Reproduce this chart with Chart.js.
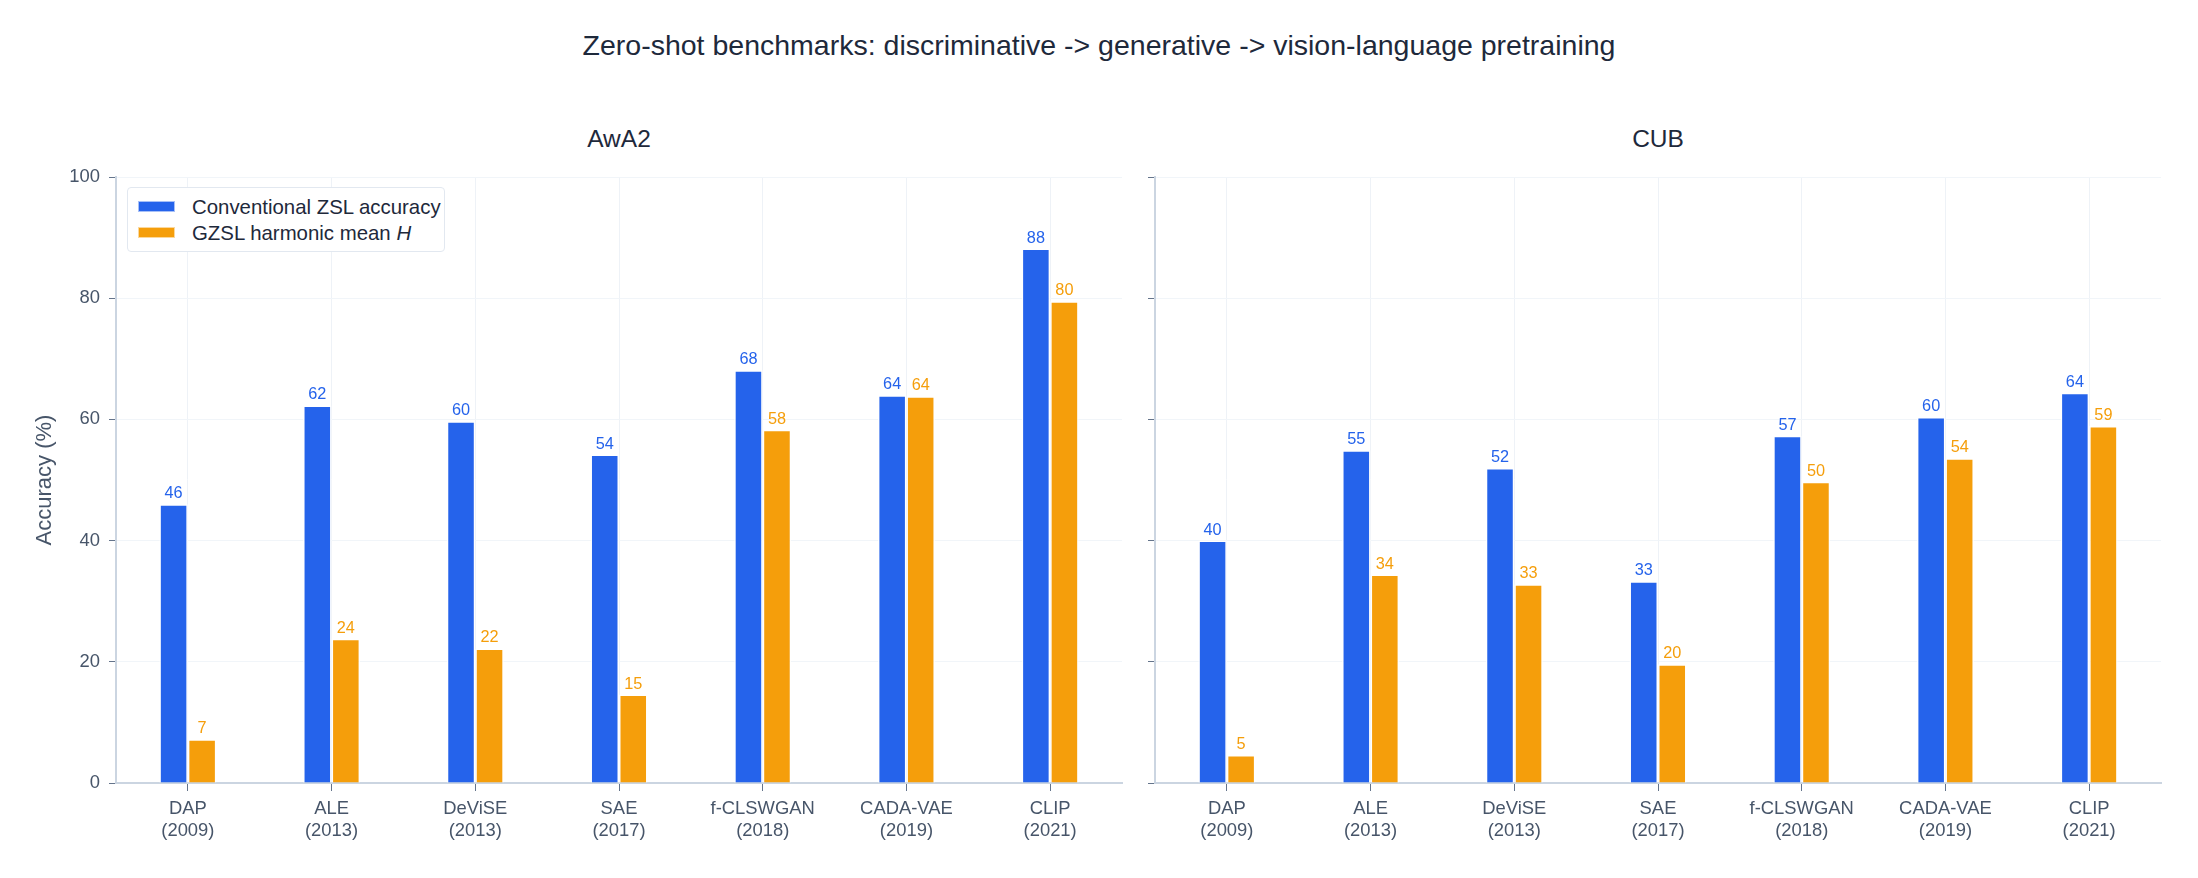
<!DOCTYPE html>
<html>
<head>
<meta charset="utf-8">
<script src="https://cdn.jsdelivr.net/npm/chart.js@4.4.1/dist/chart.umd.min.js"></script>
<style>
  html, body { margin:0; padding:0; background:#ffffff; }
  body { width:2198px; height:878px; position:relative; overflow:hidden;
         font-family:"Liberation Sans", Arial, Helvetica, sans-serif; }
  .txt { position:absolute; white-space:nowrap; color:#1e293b; }
  canvas { position:absolute; top:0; }
  #legend { position:absolute; left:127px; top:187px; width:318px; height:65px; box-sizing:border-box;
            border:1px solid #e2e8f0; border-radius:4px; background:#ffffff; }
  .sw { position:absolute; left:10px; width:37px; height:11px; box-sizing:border-box; }
  .lt { position:absolute; left:64px; font-size:20.4px; line-height:26px; color:#1e293b; white-space:nowrap; }
</style>
</head>
<body>
<div class="txt" id="title" style="left:0; width:2198px; text-align:center; top:28px; font-size:28.5px; line-height:34px;">Zero-shot benchmarks: discriminative -&gt; generative -&gt; vision-language pretraining</div>
<div class="txt" style="left:319px; width:600px; text-align:center; top:124px; font-size:24.5px; line-height:30px;">AwA2</div>
<div class="txt" style="left:1358px; width:600px; text-align:center; top:124px; font-size:24.5px; line-height:30px;">CUB</div>
<canvas id="c1" width="1140" height="878" style="left:0;"></canvas>
<canvas id="c2" width="1058" height="878" style="left:1140px;"></canvas>
<div id="legend">
  <div class="sw" style="top:13px; background:#2563eb; border:1px solid rgba(255,255,255,0.6);"></div>
  <div class="lt" style="top:6px;">Conventional ZSL accuracy</div>
  <div class="sw" style="top:39px; background:#f59e0b; border:1px solid rgba(255,255,255,0.6);"></div>
  <div class="lt" style="top:32px;">GZSL harmonic mean <i>H</i></div>
</div>
<script>
// ---- data ----
const methods = ['DAP', 'ALE', 'DeViSE', 'SAE', 'f-CLSWGAN', 'CADA-VAE', 'CLIP'];
const years = ['2009', '2013', '2013', '2017', '2018', '2019', '2021'];
const awa2ZSL = [46.0, 62.3, 59.7, 54.2, 68.1, 64.0, 88.2];
const awa2H   = [7.2, 23.8, 22.2, 14.6, 58.3, 63.8, 79.5];
const cubZSL  = [40.0, 54.9, 52.0, 33.3, 57.3, 60.4, 64.4];
const cubH    = [4.6, 34.4, 32.8, 19.6, 49.7, 53.6, 58.9];
const yTicks  = [0, 20, 40, 60, 80, 100];
const seriesNames = ['Conventional ZSL accuracy', 'GZSL harmonic mean H'];

const BLUE = '#2563eb', ORANGE = '#f59e0b';
const FONT = '"Liberation Sans", Arial, Helvetica, sans-serif';
Chart.defaults.font.family = FONT;

const labels = methods.map((m, i) => [m, '(' + years[i] + ')']);

const valueLabels = {
  id: 'valueLabels',
  afterDatasetsDraw(chart) {
    const ctx = chart.ctx;
    ctx.save();
    ctx.font = '16.3px ' + FONT;
    ctx.textAlign = 'center';
    ctx.textBaseline = 'alphabetic';
    chart.data.datasets.forEach((ds, di) => {
      const meta = chart.getDatasetMeta(di);
      ctx.fillStyle = ds.labelColor;
      meta.data.forEach((el, i) => {
        ctx.fillText(String(Math.round(ds.data[i])), el.x, el.y - 6);
      });
    });
    ctx.restore();
  }
};

function makeChart(id, zsl, h, isLeft) {
  const yWidth = isLeft ? 116 : 15;
  return new Chart(document.getElementById(id), {
    type: 'bar',
    data: {
      labels: labels,
      datasets: [
        { label: seriesNames[0], data: zsl, backgroundColor: BLUE, labelColor: BLUE,
          borderColor: 'rgba(255,255,255,0.85)', borderWidth: 1.5, borderSkipped: 'start',
          categoryPercentage: 0.397, barPercentage: 1.0 },
        { label: seriesNames[1], data: h, backgroundColor: ORANGE, labelColor: ORANGE,
          borderColor: 'rgba(255,255,255,0.85)', borderWidth: 1.5, borderSkipped: 'start',
          categoryPercentage: 0.397, barPercentage: 1.0 }
      ]
    },
    options: {
      responsive: false,
      animation: false,
      layout: { padding: { top: 177, right: isLeft ? 18 : 37, bottom: 0, left: 0 } },
      plugins: { legend: { display: false }, tooltip: { enabled: false }, title: { display: false } },
      scales: {
        x: {
          offset: true,
          grid: { offset: false, color: '#eef2f7', lineWidth: 1, tickColor: '#64748b', tickLength: 8, drawTicks: true },
          border: { color: '#cbd5e1', width: 2 },
          ticks: { color: '#475569', font: { size: 18.4, lineHeight: 1.2 }, padding: 7, maxRotation: 0, autoSkip: false },
          afterFit(scale) { scale.height = 95; }
        },
        y: {
          min: 0, max: 100,
          afterBuildTicks(scale) { scale.ticks = yTicks.map(v => ({ value: v })); },
          grid: { color: '#f1f5f9', lineWidth: 1, tickColor: '#64748b', tickLength: 7 },
          border: { color: '#cbd5e1', width: 2 },
          ticks: { display: isLeft, color: '#475569', font: { size: 18.4 }, padding: 9 },
          title: { display: isLeft, text: 'Accuracy (%)', color: '#475569', font: { size: 22 }, padding: { top: 32, bottom: 0 } },
          afterFit(scale) { scale.width = yWidth; }
        }
      }
    },
    plugins: [valueLabels]
  });
}

makeChart('c1', awa2ZSL, awa2H, true);
makeChart('c2', cubZSL, cubH, false);
</script>
</body>
</html>
